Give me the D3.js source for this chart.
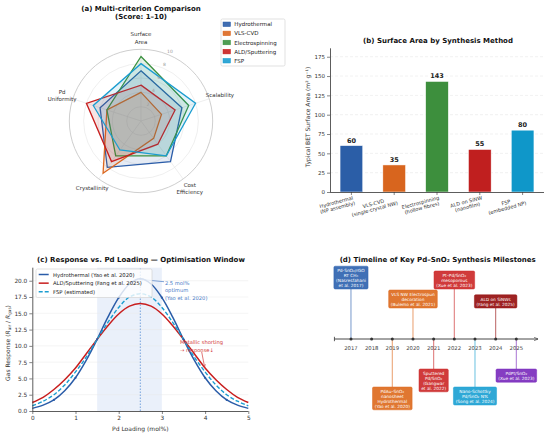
<!DOCTYPE html>
<html>
<head>
<meta charset="utf-8">
<script src="https://cdn.jsdelivr.net/npm/d3@7"></script>
<style>
  body { margin: 0; background: #fff; }
  svg { font-family: "DejaVu Sans", sans-serif; }
</style>
</head>
<body>
<svg id="chart" width="550" height="437"></svg>
<script>
// ---------- data ----------
const methods = ["Hydrothermal", "VLS-CVD", "Electrospinning", "ALD/Sputtering", "FSP"];
const methodColors = ["#2a5ca8", "#dc671f", "#3b9140", "#c81e1e", "#1b9dd0"];
const criteria = [["Surface", "Area"], ["Scalability"], ["Cost", "Efficiency"], ["Crystallinity"], ["Pd", "Uniformity"]];
const scoreHydro = [7, 6, 7, 8, 6];
const scoreVLS = [4, 3, 3, 9, 5];
const scoreElectro = [9, 7, 6, 6, 5];
const scoreALD = [5, 5, 4, 7, 8];
const scoreFSP = [8, 8, 6, 5, 7];
const radarTicks = [2, 4, 6, 8, 10];

const barLabels = [["Hydrothermal", "(NP assembly)"], ["VLS-CVD", "(single-crystal NW)"],
  ["Electrospinning", "(hollow fibres)"], ["ALD on SiNW", "(nanofilm)"], ["FSP", "(embedded NP)"]];
const surfaceArea = [60, 35, 143, 55, 80];
const barColors = ["#2b5ea7", "#d8651e", "#3d8f3d", "#c01f1f", "#0f97c9"];
const barTicks = [0, 25, 50, 75, 100, 125, 150, 175];

const loading = [0, 0.25, 0.5, 0.75, 1, 1.25, 1.5, 1.75, 2, 2.25, 2.5, 2.75, 3, 3.25, 3.5, 3.75, 4, 4.25, 4.5, 4.75, 5];
const respHydro = [0.4, 0.9, 1.7, 3.1, 5.1, 7.8, 11.0, 14.4, 17.4, 19.5, 20.3, 19.5, 17.4, 14.4, 11.0, 7.8, 5.1, 3.1, 1.7, 0.9, 0.4];
const respALD = [1.3, 2.1, 3.3, 4.8, 6.6, 8.8, 11.0, 13.1, 14.9, 16.1, 16.5, 16.1, 14.9, 13.1, 11.0, 8.8, 6.6, 4.8, 3.3, 2.1, 1.3];
const respFSP = [0.8, 1.5, 2.5, 4.0, 6.0, 8.3, 11.0, 13.6, 15.9, 17.5, 18.0, 17.5, 15.9, 13.6, 11.0, 8.3, 6.0, 4.0, 2.5, 1.5, 0.8];
const optWindow = [1.5, 3.0];
const optimum = 2.5;
const respXTicks = [0, 1, 2, 3, 4, 5];
const respYTicks = [0, 2.5, 5, 7.5, 10, 12.5, 15, 17.5, 20];

const years = [2017, 2018, 2019, 2020, 2021, 2022, 2023, 2024, 2025];
const eventYears = [2017, 2019, 2020, 2021, 2022, 2023, 2024, 2025];
const eventLevels = [2.5, -2.4, 1.55, -1.5, 2.5, -2.4, 1.55, -1.5];
const eventTexts = [
  ["Pd-SnO₂/rGO", "RT CH₄", "(Nasresfahani", "et al. 2017)"],
  ["PdAu–SnO₂", "nanosheet", "Hydrothermal", "(Yao et al. 2020)"],
  ["VLS NW Electrospun", "decoration", "(Bulemo et al. 2021)"],
  ["Sputtered", "Pd/SnO₂", "(Gangwar", "et al. 2022)"],
  ["Pt–Pd/SnO₂", "mesoporous", "(Xue et al. 2023)"],
  ["Nano-Schottky", "Pd/SnO₂ NTs", "(Song et al. 2024)"],
  ["ALD on SiNWs", "(Fang et al. 2025)"],
  ["PdPt/SnO₂", "(Xue et al. 2023)"]
];
const eventColors = ["#3064b0", "#dd6b20", "#dd6b20", "#cc2a2a", "#cc2a2a", "#1da1d2", "#961010", "#7b2dbd"];

const svg = d3.select("#chart");

svg.append("defs").selectAll("marker")
  .data([["arrBlue", "#4a7cc7"], ["arrRed", "#d23a3a"], ["arrDark", "#333"]])
  .enter().append("marker")
  .attr("id", d => d[0])
  .attr("viewBox", "0 0 10 10").attr("refX", 9).attr("refY", 5)
  .attr("markerWidth", 5).attr("markerHeight", 5).attr("orient", "auto")
  .append("path").attr("d", "M0,1 L9,5 L0,9").attr("fill", "none")
  .attr("stroke", d => d[1]).attr("stroke-width", 1.3);

function title(lines, x, y) {
  const t = svg.append("text").attr("x", x).attr("y", y)
    .attr("text-anchor", "middle").attr("font-weight", "bold").attr("font-size", 7).attr("fill", "#111");
  lines.forEach((l, i) => t.append("tspan").attr("x", x).attr("dy", i ? 8 : 0).text(l));
}

// ---------- (a) radar ----------
const cx = 141, cy = 121, R = 71.7;
const rScale = d3.scaleLinear().domain([0, 10]).range([0, R]);
const angle = i => i * 2 * Math.PI / criteria.length;
const ga = svg.append("g");

ga.selectAll("circle.ring").data(radarTicks).enter().append("circle")
  .attr("cx", cx).attr("cy", cy).attr("r", d => rScale(d)).attr("fill", "none")
  .attr("stroke", d => d === 10 ? "#c8c8c8" : "#e4e4e4").attr("stroke-width", d => d === 10 ? 0.9 : 0.6);

ga.selectAll("line.spoke").data(criteria).enter().append("line")
  .attr("x1", cx).attr("y1", cy)
  .attr("x2", (d, i) => cx + R * Math.sin(angle(i)))
  .attr("y2", (d, i) => cy - R * Math.cos(angle(i)))
  .attr("stroke", "#e2e2e2").attr("stroke-width", 0.6);

const scores = [scoreHydro, scoreVLS, scoreElectro, scoreALD, scoreFSP];
const radial = d3.lineRadial().angle((d, i) => angle(i)).radius(d => rScale(d)).curve(d3.curveLinearClosed);
ga.selectAll("path.poly").data(scores).enter().append("path")
  .attr("transform", `translate(${cx},${cy})`)
  .attr("d", d => radial(d))
  .attr("fill", (d, i) => methodColors[i]).attr("fill-opacity", 0.12)
  .attr("stroke", (d, i) => methodColors[i]).attr("stroke-width", 1.3).attr("stroke-linejoin", "miter");

const tickAng = 22.5 * Math.PI / 180;
ga.selectAll("text.rt").data(radarTicks).enter().append("text")
  .attr("x", d => cx + (rScale(d) + 4) * Math.sin(tickAng))
  .attr("y", d => cy - (rScale(d) + 4) * Math.cos(tickAng))
  .attr("text-anchor", "middle").attr("dominant-baseline", "central")
  .attr("font-size", 4.5).attr("fill", "#999").text(d => d);

criteria.forEach((lines, i) => {
  const lx = cx + 83 * Math.sin(angle(i)), ly = cy - 83 * Math.cos(angle(i));
  const t = ga.append("text").attr("text-anchor", "middle").attr("dominant-baseline", "central")
    .attr("font-size", 5.5).attr("fill", "#333");
  lines.forEach((l, k) => t.append("tspan").attr("x", lx)
    .attr("y", ly + (k - (lines.length - 1) / 2) * 7.2).text(l));
});

title(["(a) Multi-criterion Comparison", "(Score: 1–10)"], 141, 10.5);

const lega = svg.append("g");
lega.append("rect").attr("x", 221).attr("y", 19).attr("width", 64).attr("height", 47)
  .attr("rx", 1.5).attr("fill", "#fff").attr("stroke", "#cfcfcf").attr("stroke-width", 0.6);
methods.forEach((m, i) => {
  const y = 24.3 + i * 9.1;
  lega.append("rect").attr("x", 223).attr("y", y - 2.3).attr("width", 7.5).attr("height", 4.6)
    .attr("fill", methodColors[i]).attr("fill-opacity", 0.9).attr("stroke", methodColors[i]).attr("stroke-width", 0.5);
  lega.append("text").attr("x", 234.3).attr("y", y).attr("dominant-baseline", "central")
    .attr("font-size", 5.5).attr("fill", "#222").text(m);
});

// ---------- (b) bars ----------
const xb = d3.scaleBand().domain(d3.range(surfaceArea.length)).range([330, 544]);
const yb = d3.scaleLinear().domain([0, d3.max(surfaceArea) * 1.3]).range([192, 48.3]);
const gb = svg.append("g");

gb.selectAll("line.grid").data(barTicks.slice(1)).enter().append("line")
  .attr("x1", 330).attr("x2", 544).attr("y1", d => yb(d)).attr("y2", d => yb(d))
  .attr("stroke", "#e3e3e3").attr("stroke-width", 0.5).attr("stroke-dasharray", "3,2");

const bw = xb.bandwidth() * 0.53;
gb.selectAll("rect.bar").data(surfaceArea).enter().append("rect")
  .attr("x", (d, i) => xb(i) + xb.bandwidth() / 2 - bw / 2)
  .attr("y", d => yb(d)).attr("width", bw).attr("height", d => yb(0) - yb(d))
  .attr("fill", (d, i) => barColors[i]).attr("stroke", "#fff").attr("stroke-width", 0.5);

gb.selectAll("text.val").data(surfaceArea).enter().append("text")
  .attr("x", (d, i) => xb(i) + xb.bandwidth() / 2).attr("y", d => yb(d) - 3)
  .attr("text-anchor", "middle").attr("font-weight", "bold").attr("font-size", 6.5).attr("fill", "#222")
  .text(d => d);

const yAxisB = gb.append("g").attr("transform", "translate(330,0)")
  .call(d3.axisLeft(yb).tickValues(barTicks).tickSize(3).tickPadding(2));
const xAxisB = gb.append("g").attr("transform", "translate(0,192)")
  .call(d3.axisBottom(xb).tickSize(3).tickFormat(""));
[yAxisB, xAxisB].forEach(a => {
  a.select(".domain").attr("stroke", "#333").attr("stroke-width", 0.8);
  a.selectAll(".tick line").attr("stroke", "#333").attr("stroke-width", 0.6);
  a.selectAll("text").attr("font-size", 5.5).attr("fill", "#333").attr("font-family", "DejaVu Sans");
});
xAxisB.select(".domain").attr("d", "M330,0.5H544");
yAxisB.select(".domain").attr("d", "M0.5,192V48.3");

barLabels.forEach((lines, i) => {
  const g = gb.append("g")
    .attr("transform", `translate(${xb(i) + xb.bandwidth() / 2 + 1.5},195) rotate(-15)`);
  const ts = lines.map((l, k) => g.append("text").attr("y", 4.3 + k * 5.6)
    .attr("font-size", 5).attr("fill", "#333").attr("text-anchor", "middle").text(l));
  const maxW = d3.max(ts, t => t.node().getComputedTextLength());
  ts.forEach(t => t.attr("x", -maxW / 2));
});

svg.append("text").attr("transform", "translate(307,117) rotate(-90)")
  .attr("text-anchor", "middle").attr("dominant-baseline", "central")
  .attr("font-size", 6).attr("fill", "#333").text("Typical BET Surface Area (m² g⁻¹)");

title(["(b) Surface Area by Synthesis Method"], 438, 42.5);

// ---------- (c) response curves ----------
const xc = d3.scaleLinear().domain([0, 5]).range([32.3, 248.3]);
const yc = d3.scaleLinear().domain([0, 22]).range([411, 267.7]);
const gc = svg.append("g");

gc.append("rect").attr("x", xc(optWindow[0])).attr("y", yc(22))
  .attr("width", xc(optWindow[1]) - xc(optWindow[0])).attr("height", yc(0) - yc(22))
  .attr("fill", "#4f86d9").attr("fill-opacity", 0.12);

gc.selectAll("line.grid").data(respYTicks.slice(1)).enter().append("line")
  .attr("x1", xc(0)).attr("x2", xc(5)).attr("y1", d => yc(d)).attr("y2", d => yc(d))
  .attr("stroke", "#e8e8e8").attr("stroke-width", 0.5);

gc.append("line").attr("x1", xc(optimum)).attr("x2", xc(optimum))
  .attr("y1", yc(0)).attr("y2", yc(22))
  .attr("stroke", "#5b8fd6").attr("stroke-width", 0.8).attr("stroke-dasharray", "1.5,1.5");

const lineC = ys => d3.line().x((d, i) => xc(loading[i])).y(d => yc(d)).curve(d3.curveCatmullRom)(ys);
const curves = [
  { ys: respHydro, color: "#2a5ca8", dash: null, w: 1.5, name: "Hydrothermal (Yao et al. 2020)" },
  { ys: respALD, color: "#c81e1e", dash: null, w: 1.5, name: "ALD/Sputtering (Fang et al. 2025)" },
  { ys: respFSP, color: "#1b9dd0", dash: "4,2", w: 1.4, name: "FSP (estimated)" }
];
curves.forEach(c => {
  gc.append("path").attr("d", lineC(c.ys)).attr("fill", "none")
    .attr("stroke", c.color).attr("stroke-width", c.w).attr("stroke-dasharray", c.dash);
});
gc.selectAll("circle.mk").data(respHydro.filter((d, i) => i % 2 === 0 && i > 0 && i < 20))
  .enter().append("circle")
  .attr("cx", (d, i) => xc(loading[(i + 1) * 2])).attr("cy", d => yc(d))
  .attr("r", 1.1).attr("fill", "#2a5ca8");

// annotations
gc.append("line").attr("x1", xc(3.05)).attr("y1", yc(19.85)).attr("x2", xc(2.5)).attr("y2", yc(20.2))
  .attr("stroke", "#4a7cc7").attr("stroke-width", 0.7).attr("marker-end", "url(#arrBlue)");
const ann1 = gc.append("text").attr("font-size", 5.2).attr("fill", "#4a7cc7").attr("dominant-baseline", "central");
["2.5 mol%", "optimum", "(Yao et al. 2020)"].forEach((l, k) =>
  ann1.append("tspan").attr("x", xc(3.07)).attr("y", 282.7 + k * 7.5).text(l));

gc.append("line").attr("x1", xc(3.92)).attr("y1", yc(9.1)).attr("x2", xc(3.99)).attr("y2", yc(6.7))
  .attr("stroke", "#d23a3a").attr("stroke-width", 0.7).attr("marker-end", "url(#arrRed)");
const ann2 = gc.append("text").attr("font-size", 5.2).attr("fill", "#d23a3a").attr("dominant-baseline", "central");
["Metallic shorting", "→ response↓"].forEach((l, k) =>
  ann2.append("tspan").attr("x", 180).attr("y", 342 + k * 7.6).text(l));

const yAxisC = gc.append("g").attr("transform", `translate(${xc(0)},0)`)
  .call(d3.axisLeft(yc).tickValues(respYTicks).tickFormat(d3.format(".1f")).tickSize(3).tickPadding(2));
const xAxisC = gc.append("g").attr("transform", `translate(0,${yc(0)})`)
  .call(d3.axisBottom(xc).tickValues(respXTicks).tickFormat(d3.format("d")).tickSize(3).tickPadding(2));
[yAxisC, xAxisC].forEach(a => {
  a.select(".domain").attr("stroke", "#333").attr("stroke-width", 0.8);
  a.selectAll(".tick line").attr("stroke", "#333").attr("stroke-width", 0.6);
  a.selectAll("text").attr("font-size", 5.8).attr("fill", "#333").attr("font-family", "DejaVu Sans");
});
yAxisC.select(".domain").attr("d", `M0.5,${yc(0)}V${yc(22)}`);
xAxisC.select(".domain").attr("d", `M${xc(0)},0.5H${xc(5)}`);

// legend
const legc = gc.append("g");
legc.append("rect").attr("x", 36).attr("y", 269).attr("width", 116).attr("height", 28.5).attr("rx", 1.5)
  .attr("fill", "#fff").attr("fill-opacity", 0.8).attr("stroke", "#cfcfcf").attr("stroke-width", 0.6);
curves.forEach((c, i) => {
  const y = 274.5 + i * 8.65;
  legc.append("line").attr("x1", 38.7).attr("x2", 48.7).attr("y1", y).attr("y2", y)
    .attr("stroke", c.color).attr("stroke-width", c.w).attr("stroke-dasharray", c.dash);
  legc.append("text").attr("x", 53).attr("y", y).attr("dominant-baseline", "central")
    .attr("font-size", 5.3).attr("fill", "#222").text(c.name);
});

const yl = svg.append("text").attr("transform", "translate(7,343) rotate(-90)")
  .attr("text-anchor", "middle").attr("dominant-baseline", "central").attr("font-size", 6).attr("fill", "#333");
yl.append("tspan").text("Gas Response (");
yl.append("tspan").attr("font-style", "italic").text("R");
yl.append("tspan").attr("font-size", 4.2).attr("dy", 1.5).text("air");
yl.append("tspan").attr("dy", -1.5).text(" / ");
yl.append("tspan").attr("font-style", "italic").text("R");
yl.append("tspan").attr("font-size", 4.2).attr("dy", 1.5).text("gas");
yl.append("tspan").attr("dy", -1.5).text(")");

svg.append("text").attr("x", (xc(0) + xc(5)) / 2).attr("y", 428.3)
  .attr("text-anchor", "middle").attr("dominant-baseline", "central")
  .attr("font-size", 6).attr("fill", "#333").text("Pd Loading (mol%)");

title(["(c) Response vs. Pd Loading — Optimisation Window"], 141, 262);

// ---------- (d) timeline ----------
const xd = d3.scaleLinear().domain([2016, 2026]).range([330.3, 537]);
const yd = d3.scaleLinear().domain([-1, 1]).range([359, 319]);
const gd = svg.append("g");

eventYears.forEach((yr, i) => {
  gd.append("line").attr("x1", xd(yr)).attr("x2", xd(yr)).attr("y1", yd(0)).attr("y2", yd(eventLevels[i]))
    .attr("stroke", eventColors[i]).attr("stroke-opacity", 0.6).attr("stroke-width", 1.1);
});

gd.append("line").attr("x1", xd(2016.2)).attr("x2", xd(2026.05)).attr("y1", yd(0)).attr("y2", yd(0))
  .attr("stroke", "#333").attr("stroke-width", 0.9).attr("marker-end", "url(#arrDark)");
gd.append("line").attr("x1", xd(2016.2)).attr("x2", xd(2016.2)).attr("y1", yd(0) - 2.2).attr("y2", yd(0) + 2.2)
  .attr("stroke", "#333").attr("stroke-width", 0.8);

gd.selectAll("circle.yr").data(years).enter().append("circle")
  .attr("cx", d => xd(d)).attr("cy", yd(0)).attr("r", 1.5).attr("fill", "#333");
gd.selectAll("text.yr").data(years).enter().append("text")
  .attr("x", d => xd(d)).attr("y", yd(0) + 8.7).attr("text-anchor", "middle")
  .attr("dominant-baseline", "central").attr("font-size", 5.3).attr("fill", "#444").text(d => d);

const lh = 4.8, padV = 1.8, padH = 2.2;
eventYears.forEach((yr, i) => {
  const lines = eventTexts[i];
  const h = lines.length * lh + 2 * padV;
  const top = eventLevels[i] > 0 ? yd(eventLevels[i]) - h : yd(eventLevels[i]);
  const g = gd.append("g");
  const rect = g.append("rect");
  const t = g.append("text").attr("text-anchor", "middle").attr("dominant-baseline", "central")
    .attr("font-size", 4.3).attr("fill", "#fff");
  lines.forEach((l, k) => t.append("tspan").attr("x", xd(yr)).attr("y", top + padV + lh * (k + 0.5)).text(l));
  const w = d3.max(t.selectAll("tspan").nodes(), n => n.getComputedTextLength()) + 2 * padH;
  rect.attr("x", xd(yr) - w / 2).attr("y", top).attr("width", w).attr("height", h).attr("rx", 1.3)
    .attr("fill", eventColors[i]).attr("fill-opacity", 0.92)
    .attr("stroke", eventColors[i]).attr("stroke-width", 0.5);
});

title(["(d) Timeline of Key Pd–SnO₂ Synthesis Milestones"], 437.7, 261.5);
</script>
</body>
</html>
